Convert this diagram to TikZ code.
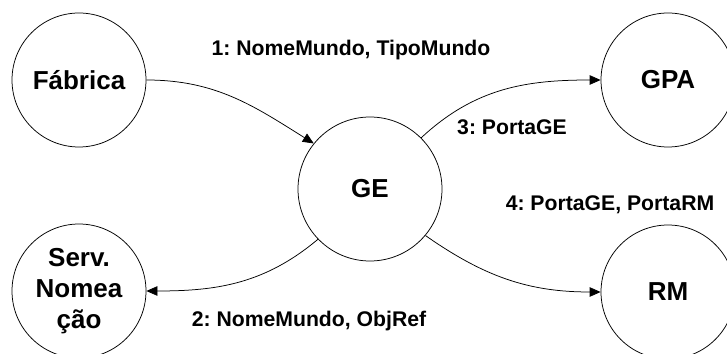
\documentclass[tikz,border=0pt]{standalone}
\usepackage{fontspec}
\setmainfont{Liberation Sans}
\frenchspacing
\usetikzlibrary{arrows.meta}
\begin{document}
\begin{tikzpicture}[x=1pt,y=1pt,
  proc/.style={draw=black, line width=0.75pt, circle, minimum size=134pt, inner sep=0pt,
    font=\fontsize{26}{31}\selectfont\bfseries, align=center},
  lbl/.style={font=\fontsize{21.2}{24}\selectfont\bfseries, inner sep=0pt},
  arr/.style={line width=0.75pt, -{Triangle[length=11pt,width=9.5pt]}}]
\path[use as bounding box, clip] (0,0) rectangle (727,353);
\node[proc] (fab) at (79,273) {Fábrica};
\node[proc] (gpa) at (668,273) {GPA};
\node[proc, minimum size=144pt] (ge) at (370,164) {GE};
\node[proc] (serv) at (79,62) {Serv.\\Nomea\\ção};
\node[proc] (rm) at (668,61) {RM};
\draw[arr] (fab.east) to[out=0, in=148] (ge.141);
\draw[arr] (ge.224) to[out=220, in=0] (serv.east);
\draw[arr] (ge.45) to[out=43, in=180] (gpa.west);
\draw[arr] (ge.-40) to[out=-35, in=180] (rm.west);
\node[lbl] (l1) at (351,303) {1: NomeMundo, TipoMundo};
\node[lbl] (l2) at (309,32) {2: NomeMundo, ObjRef};
\node[lbl] (l3) at (512,226) {3: PortaGE};
\node[lbl] (l4) at (610,148) {4: PortaGE, PortaRM};
\end{tikzpicture}
\end{document}
